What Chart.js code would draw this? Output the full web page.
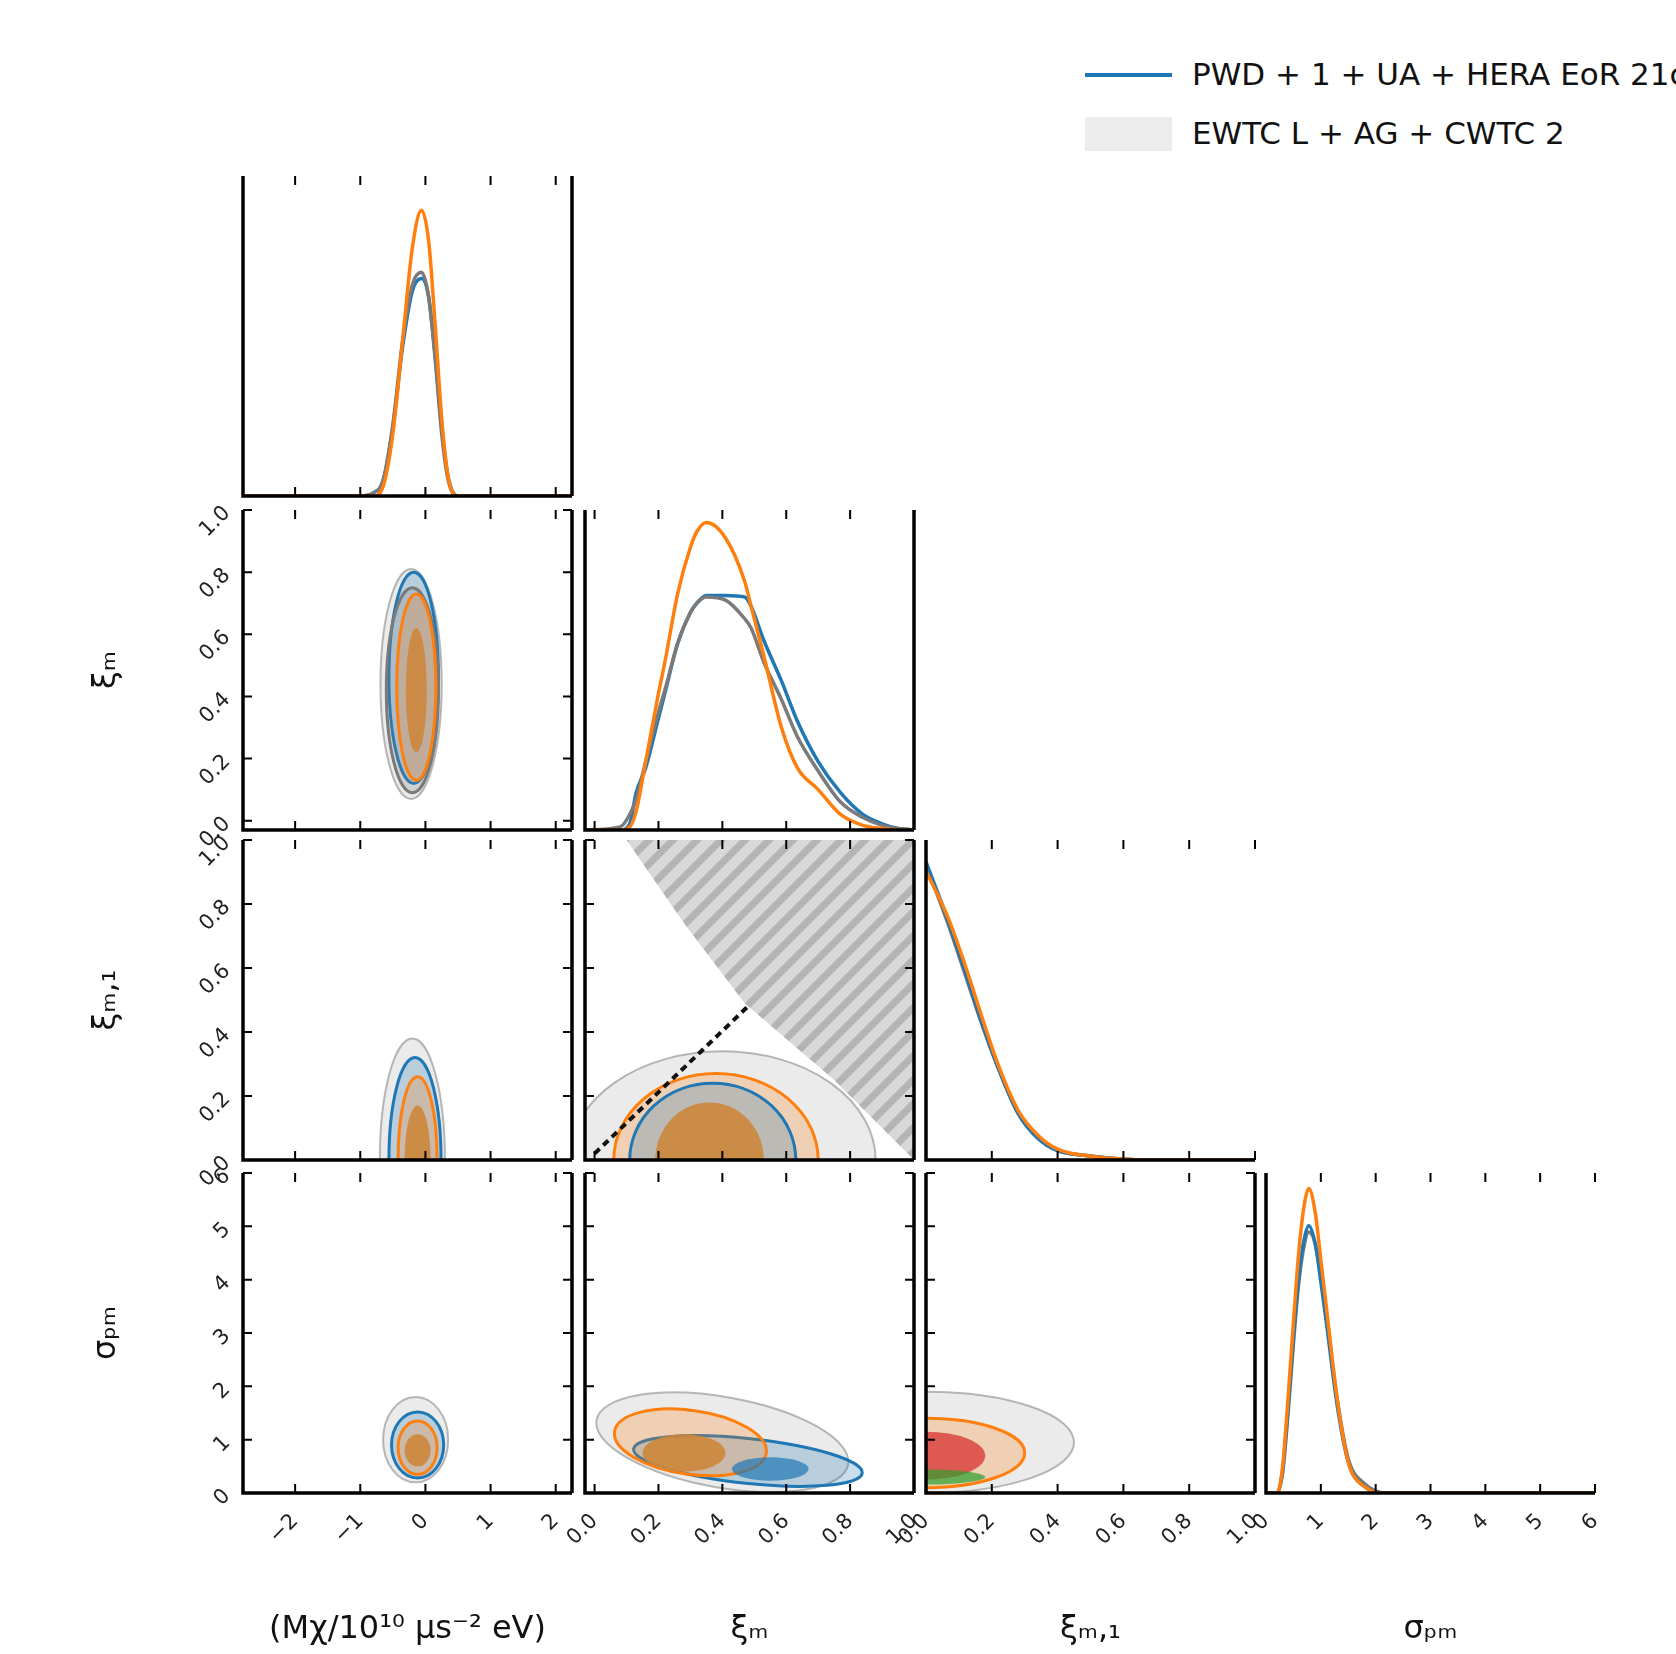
<!DOCTYPE html>
<html>
<head>
<meta charset="utf-8">
<script src="https://cdn.jsdelivr.net/npm/chart.js@4"></script>
<style>
  body { margin: 0; background: #fff; width: 1676px; height: 1654px; overflow: hidden; position: relative; font-family: "DejaVu Sans", sans-serif; }
  canvas { position: absolute; }
  .lg { position: absolute; white-space: nowrap; font-size: 31px; color: #111; }
</style>
</head>
<body>
<div style="position:absolute;left:1085px;top:73px;width:87px;height:4px;background:#1f77b4"></div>
<div style="position:absolute;left:1085px;top:117px;width:87px;height:34px;background:#ececec"></div>
<div class="lg" style="left:1192px;top:56px">PWD + 1 + UA + HERA EoR 21cm</div>
<div class="lg" style="left:1192px;top:115px">EWTC L + AG + CWTC 2</div>
<script>
// tick values
const ticksM = [-2, -1, 0, 1, 2];
const ticksXi = [0, 0.2, 0.4, 0.6, 0.8, 1.0];
const ticksXi1 = [0, 0.2, 0.4, 0.6, 0.8, 1.0];
const ticksSig = [0, 1, 2, 3, 4, 5, 6];

// 1D marginal: M
const gridM = [-2.8, -1.0, -0.8, -0.65, -0.5, -0.35, -0.2, -0.06, 0.05, 0.15, 0.25, 0.35, 0.5, 2.25];
const pM_orange = [0, 0, 0, 0.03, 0.2, 0.5, 0.8, 0.92, 0.82, 0.55, 0.25, 0.06, 0, 0];
const pM_blue   = [0, 0, 0.01, 0.05, 0.22, 0.48, 0.66, 0.70, 0.64, 0.45, 0.22, 0.06, 0, 0];
const pM_grey   = [0, 0, 0.01, 0.05, 0.23, 0.5, 0.68, 0.72, 0.64, 0.44, 0.2, 0.05, 0, 0];

// 1D marginal: xi_m
const gridXi = [-0.03, 0.08, 0.11, 0.13, 0.16, 0.2, 0.22, 0.26, 0.3, 0.32, 0.35, 0.41, 0.47, 0.49, 0.53, 0.585, 0.635, 0.7, 0.77, 0.84, 0.9, 0.95, 1.0];
const pXi_orange = [0, 0, 0.01, 0.06, 0.22, 0.44, 0.54, 0.76, 0.91, 0.96, 0.99, 0.94, 0.8, 0.72, 0.56, 0.33, 0.2, 0.13, 0.05, 0.015, 0.005, 0, 0];
const pXi_blue   = [0, 0, 0.02, 0.12, 0.2, 0.36, 0.44, 0.6, 0.7, 0.73, 0.755, 0.755, 0.75, 0.72, 0.61, 0.48, 0.35, 0.22, 0.12, 0.05, 0.02, 0.005, 0];
const pXi_grey   = [0, 0.01, 0.05, 0.1, 0.22, 0.38, 0.45, 0.6, 0.7, 0.73, 0.75, 0.74, 0.68, 0.65, 0.54, 0.42, 0.3, 0.19, 0.09, 0.04, 0.015, 0.005, 0];

// 1D marginal: xi_m,1
const gridXi1 = [0, 0.067, 0.118, 0.167, 0.218, 0.28, 0.34, 0.4, 0.48, 0.57, 0.7, 1.0];
const pXi1_orange = [0.93, 0.78, 0.63, 0.47, 0.31, 0.16, 0.08, 0.035, 0.015, 0.005, 0, 0];
const pXi1_blue   = [0.96, 0.77, 0.61, 0.45, 0.3, 0.15, 0.07, 0.03, 0.015, 0.005, 0, 0];
const pXi1_grey   = [0.95, 0.76, 0.6, 0.445, 0.3, 0.15, 0.07, 0.03, 0.015, 0.005, 0, 0];

// 1D marginal: sigma
const gridSig = [0, 0.2, 0.3, 0.4, 0.5, 0.6, 0.7, 0.78, 0.9, 1.0, 1.1, 1.3, 1.5, 1.8, 2.2, 6];
const pSig_orange = [0, 0, 0.08, 0.3, 0.55, 0.78, 0.93, 0.98, 0.9, 0.75, 0.6, 0.3, 0.1, 0.02, 0, 0];
const pSig_blue   = [0, 0, 0.07, 0.27, 0.5, 0.7, 0.82, 0.86, 0.8, 0.68, 0.55, 0.28, 0.1, 0.02, 0, 0];
const pSig_grey   = [0, 0, 0.06, 0.25, 0.48, 0.68, 0.8, 0.84, 0.8, 0.7, 0.57, 0.3, 0.11, 0.03, 0, 0];

// 2D contour levels: [cx, cy, rx, ry, tilt, series, level]
const ell_xi_M = [
  [-0.22, 0.44, 0.47, 0.37, 0, 'grey', 0],
  [-0.18, 0.46, 0.38, 0.34, 0, 'blue', 1],
  [-0.2, 0.42, 0.4, 0.33, 0, 'grey', 1],
  [-0.14, 0.43, 0.3, 0.3, 0, 'orange', 1],
  [-0.14, 0.42, 0.16, 0.2, 0, 'orange', 2]
];
const ell_xi1_M = [
  [-0.2, 0, 0.5, 0.38, 0, 'grey', 0],
  [-0.16, 0, 0.4, 0.32, 0, 'blue', 1],
  [-0.12, 0, 0.3, 0.26, 0, 'orange', 1],
  [-0.12, 0, 0.2, 0.17, 0, 'orange', 2]
];
const ell_sig_M = [
  [-0.15, 1.0, 0.5, 0.8, 0, 'grey', 0],
  [-0.12, 0.9, 0.4, 0.62, 0, 'blue', 1],
  [-0.12, 0.85, 0.3, 0.5, 0, 'orange', 1],
  [-0.12, 0.8, 0.2, 0.3, 0, 'orange', 2]
];
const ell_xi1_xi = [
  [0.4, 0, 0.48, 0.34, 0, 'grey', 0],
  [0.38, 0, 0.32, 0.27, 0, 'orange', 1],
  [0.37, 0, 0.26, 0.24, 0, 'blue', 1],
  [0.36, 0, 0.17, 0.18, 0, 'orange', 2]
];
const ell_sig_xi = [
  [0.4, 0.95, 0.4, 0.85, 10, 'grey', 0],
  [0.48, 0.6, 0.36, 0.42, 6, 'blue', 1],
  [0.3, 0.95, 0.24, 0.6, 8, 'orange', 1],
  [0.28, 0.75, 0.13, 0.35, 0, 'orange', 2],
  [0.55, 0.45, 0.12, 0.22, 0, 'blue', 2]
];
const ell_sig_xi1 = [
  [0, 0.95, 0.45, 0.95, 0, 'grey', 0],
  [0, 0.75, 0.3, 0.65, 0, 'orange', 1],
  [0, 0.7, 0.18, 0.45, 0, 'red', 2],
  [0, 0.3, 0.18, 0.14, 0, 'green', 2]
];

// excluded region in (xi_m, xi_m,1) and the xi_m,1 = xi_m boundary
const exclX = [0.1, 1.0, 1.0, 0.98, 0.75, 0.47, 0.28];
const exclY = [1.0, 1.0, 0.0, 0.02, 0.25, 0.49, 0.74];
const diagX = [0.0, 0.48];
const diagY = [0.02, 0.48];

Chart.defaults.font.family = 'DejaVu Sans';

const colLeft = [243, 585, 926, 1266];
const rowTop = [176, 510, 840, 1173];
const PW = 329, PH = 320, YW = 160, XH = 160, GAP = 40;

const fmtM = v => (v < 0 ? '\u2212' + Math.abs(v) : String(v));
const fmtF = v => (v < 0 ? '\u2212' : '') + Math.abs(v).toFixed(1);
const axes = [
  { min: -2.8, max: 2.25, ticks: ticksM, fmt: fmtM, title: '(M\u03c7/10\u00b9\u2070 \u03bcs\u207b\u00b2 eV)' },
  { min: -0.03, max: 1.0, ticks: ticksXi, fmt: fmtF, title: '\u03be\u2098' },
  { min: 0, max: 1.0, ticks: ticksXi1, fmt: fmtF, title: '\u03be\u2098,\u2081' },
  { min: 0, max: 6, ticks: ticksSig, fmt: v => String(v), title: '\u03c3\u209a\u2098' }
];

const colors = { blue: '#1f77b4', orange: '#ff7f0e', grey: '#7a7a7a', red: '#d62728', green: '#2ca02c' };
const rgb = { blue: '31,119,180', orange: '255,127,14', grey: '128,128,128', red: '214,39,40', green: '44,160,44' };
function ellStyle(s, lvl) {
  if (lvl === 0) return { fill: `rgba(${rgb[s]},0.16)`, stroke: `rgba(${rgb[s]},0.55)`, lw: 2 };
  if (lvl === 1) return { fill: `rgba(${rgb[s]},0.24)`, stroke: colors[s], lw: 3 };
  return { fill: s === 'orange' ? 'rgba(205,135,60,0.9)' : `rgba(${rgb[s]},0.7)`, stroke: null, lw: 0 };
}

function stripes() {
  const c = document.createElement('canvas');
  c.width = 24; c.height = 24;
  const g = c.getContext('2d');
  g.fillStyle = '#d8d8d8'; g.fillRect(0, 0, 24, 24);
  g.strokeStyle = '#b4b4b4'; g.lineWidth = 7;
  g.beginPath();
  g.moveTo(-6, 30); g.lineTo(30, -6);
  g.moveTo(-18, 18); g.lineTo(18, -18);
  g.moveTo(6, 42); g.lineTo(42, 6);
  g.stroke();
  return g.createPattern(c, 'repeat');
}

const cornerPlugin = {
  id: 'corner',
  beforeDatasetsDraw(chart, args, o) {
    const { ctx, chartArea: a, scales: { x, y } } = chart;
    ctx.save();
    ctx.beginPath(); ctx.rect(a.left, a.top, a.right - a.left, a.bottom - a.top); ctx.clip();
    if (o.region) {
      const [xs, ys] = o.region;
      ctx.beginPath();
      xs.forEach((v, i) => {
        const px = x.getPixelForValue(v), py = y.getPixelForValue(ys[i]);
        i ? ctx.lineTo(px, py) : ctx.moveTo(px, py);
      });
      ctx.closePath();
      ctx.fillStyle = stripes();
      ctx.fill();
    }
    for (const [cx, cy, rx, ry, tilt, s, lvl] of (o.ellipses || [])) {
      const px = x.getPixelForValue(cx), py = y.getPixelForValue(cy);
      const rxp = Math.abs(x.getPixelForValue(cx + rx) - px);
      const ryp = Math.abs(y.getPixelForValue(cy + ry) - py);
      const st = ellStyle(s, lvl);
      ctx.beginPath();
      ctx.ellipse(px, py, rxp, ryp, tilt * Math.PI / 180, 0, 2 * Math.PI);
      ctx.fillStyle = st.fill; ctx.fill();
      if (st.stroke) { ctx.strokeStyle = st.stroke; ctx.lineWidth = st.lw; ctx.stroke(); }
    }
    ctx.restore();
  },
  afterDraw(chart, args, o) {
    const { ctx, chartArea: a, scales: { x, y } } = chart;
    ctx.save();
    ctx.strokeStyle = '#000';
    ctx.lineWidth = 2;
    ctx.beginPath();
    for (const t of x.ticks) {
      const px = x.getPixelForValue(t.value);
      ctx.moveTo(px, a.bottom); ctx.lineTo(px, a.bottom - 9);
      ctx.moveTo(px, a.top); ctx.lineTo(px, a.top + 9);
    }
    if (!o.diag) {
      for (const t of y.ticks) {
        const py = y.getPixelForValue(t.value);
        ctx.moveTo(a.left, py); ctx.lineTo(a.left + 9, py);
        ctx.moveTo(a.right, py); ctx.lineTo(a.right - 9, py);
      }
    }
    ctx.stroke();
    ctx.lineWidth = 3.5;
    ctx.beginPath();
    ctx.moveTo(a.left, a.top); ctx.lineTo(a.left, a.bottom); ctx.lineTo(a.right, a.bottom);
    if (o.rightSpine) { ctx.moveTo(a.right, a.top); ctx.lineTo(a.right, a.bottom); }
    ctx.stroke();
    ctx.restore();
  }
};

function fitBox(horiz, show) {
  return s => {
    if (horiz) s.height = show ? XH : 0; else s.width = show ? YW : 0;
    s.paddingLeft = 0; s.paddingRight = 0; s.paddingTop = 0; s.paddingBottom = 0;
  };
}

function scaleOpts(ax, horiz, show) {
  return {
    type: 'linear', min: ax.min, max: ax.max,
    afterBuildTicks: s => { s.ticks = ax.ticks.map(v => ({ value: v })); },
    afterFit: fitBox(horiz, show),
    grid: { display: false }, border: { display: false },
    ticks: { display: show, minRotation: 45, maxRotation: 45, color: '#222', font: { size: 21 }, padding: 8, callback: v => ax.fmt(v) },
    title: { display: show, text: ax.title, color: '#111', font: { size: 32 }, padding: { top: 4, bottom: 4 } }
  };
}

const line = (xs, ys, s, extra) => Object.assign({
  data: xs.map((v, i) => ({ x: v, y: ys[i] })),
  showLine: true, pointRadius: 0, borderColor: colors[s], borderWidth: 3.5,
  tension: 0.3, cubicInterpolationMode: 'monotone', fill: false
}, extra || {});

function panel(r, c, datasets, corner) {
  const showY = c === 0 && r > 0, showX = r === 3;
  const padL = showY ? YW : GAP, padB = showX ? XH : GAP, padT = GAP, padR = GAP;
  const cv = document.createElement('canvas');
  const w = PW + padL + padR, h = PH + padT + padB;
  cv.width = w; cv.height = h;
  cv.style.width = w + 'px'; cv.style.height = h + 'px';
  cv.style.left = (colLeft[c] - padL) + 'px';
  cv.style.top = (rowTop[r] - padT) + 'px';
  document.body.appendChild(cv);
  const diag = r === c;
  new Chart(cv, {
    type: 'scatter',
    data: { datasets },
    options: {
      responsive: false, animation: false,
      layout: { padding: { left: showY ? 0 : padL, bottom: showX ? 0 : padB, top: padT, right: padR } },
      plugins: { legend: { display: false }, tooltip: { enabled: false }, corner: Object.assign({ diag }, corner) },
      scales: {
        x: scaleOpts(axes[c], true, showX),
        y: diag ? { type: 'linear', min: 0, max: 1.03, display: true, grid: { display: false }, border: { display: false }, ticks: { display: false }, afterFit: fitBox(false, false) }
               : scaleOpts(axes[r], false, showY)
      }
    },
    plugins: [cornerPlugin]
  });
}

// diagonal panels
panel(0, 0, [line(gridM, pM_orange, 'orange'), line(gridM, pM_grey, 'grey'), line(gridM, pM_blue, 'blue')], { rightSpine: true });
panel(1, 1, [line(gridXi, pXi_orange, 'orange'), line(gridXi, pXi_grey, 'grey'), line(gridXi, pXi_blue, 'blue')], { rightSpine: true });
panel(2, 2, [line(gridXi1, pXi1_orange, 'orange'), line(gridXi1, pXi1_blue, 'blue'), line(gridXi1, pXi1_grey, 'grey')], {});
panel(3, 3, [line(gridSig, pSig_orange, 'orange'), line(gridSig, pSig_blue, 'blue'), line(gridSig, pSig_grey, 'grey')], {});

// 2D panels
panel(1, 0, [], { ellipses: ell_xi_M, rightSpine: true });
panel(2, 0, [], { ellipses: ell_xi1_M, rightSpine: true });
panel(3, 0, [], { ellipses: ell_sig_M, rightSpine: true });
panel(2, 1, [line(diagX, diagY, 'grey', { borderColor: '#111', borderWidth: 4, borderDash: [7, 5], tension: 0 })],
      { ellipses: ell_xi1_xi, region: [exclX, exclY], rightSpine: true });
panel(3, 1, [], { ellipses: ell_sig_xi, rightSpine: true });
panel(3, 2, [], { ellipses: ell_sig_xi1, rightSpine: true });
</script>
</body>
</html>
